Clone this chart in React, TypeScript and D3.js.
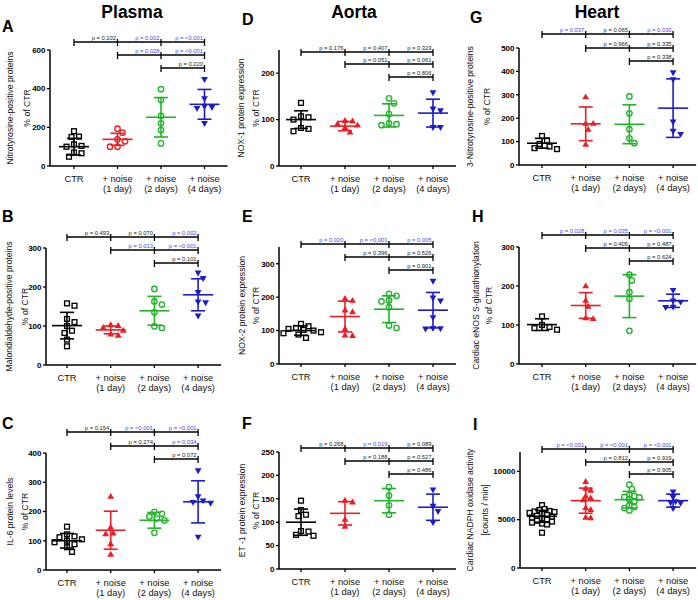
import React from "react";
import * as d3 from "d3";

// ---------- shared category labels ----------
const CAT_LINE1 = ["CTR", "+ noise", "+ noise", "+ noise"];
const CAT_LINE2 = ["", "(1 day)", "(2 days)", "(4 days)"];
const TITLES = ["Plasma", "Aorta", "Heart"];

// ---------- Panel A: Nitrotyrosine-positive proteins (plasma) ----------
const A_POINTS = [
  [180, 152, 150, 112, 104, 100, 70, 66, 48],
  [193, 172, 138, 128, 100, 100],
  [397, 341, 259, 221, 186, 117],
  [450, 350, 310, 305, 300, 222],
];
const A_MEAN = [100, 138, 252, 319];
const A_SD = [43, 31, 102, 77];
const A_P = ["0.102", "0.002", "<0.001", "0.028", "<0.001", "0.220"];
const A_TICKS = [0, 200, 400, 600];

// ---------- Panel B: Malondialdehyde-positive proteins ----------
const B_POINTS = [
  [158, 152, 118, 110, 100, 88, 82, 65, 48],
  [102, 100, 95, 88, 78, 75],
  [195, 163, 155, 135, 99, 95],
  [237, 223, 187, 163, 161, 127],
];
const B_MEAN = [101, 90, 139, 180];
const B_SD = [34, 10, 37, 41];
const B_P = ["0.493", "0.070", "0.002", "0.013", "<0.001", "0.101"];
const B_TICKS = [0, 100, 200, 300];

// ---------- Panel C: IL-6 protein levels ----------
const C_POINTS = [
  [148, 122, 115, 112, 105, 100, 95, 88, 78, 62],
  [250, 145, 125, 122, 88, 52],
  [199, 192, 183, 176, 170, 127],
  [341, 252, 238, 233, 230, 114],
];
const C_MEAN = [100, 136, 170, 233];
const C_SD = [25, 65, 27, 72];
const C_P = ["0.154", "<0.001", "<0.001", "0.274", "0.034", "0.072"];
const C_TICKS = [0, 100, 200, 300, 400];

// ---------- Panel D: NOX-1 protein expression ----------
const D_POINTS = [
  [136, 107, 105, 100, 82, 80, 75],
  [97, 96, 90, 87, 82, 72],
  [146, 135, 112, 92, 90, 88],
  [159, 124, 120, 84, 84],
];
const D_MEAN = [100, 86, 109, 114];
const D_SD = [19, 10, 25, 30];
const D_P = ["0.176", "0.407", "0.323", "0.051", "0.061", "0.806"];
const D_TICKS = [0, 100, 200];

// ---------- Panel E: NOX-2 protein expression ----------
const E_POINTS = [
  [120, 113, 108, 105, 102, 100, 95, 92, 88, 78],
  [195, 189, 160, 155, 104, 85, 84],
  [210, 204, 190, 187, 170, 115, 108],
  [249, 199, 190, 140, 108, 107, 106],
];
const E_MEAN = [100, 142, 164, 161];
const E_SD = [14, 46, 40, 53];
const E_P = ["0.020", "<0.001", "0.005", "0.396", "0.526", "0.901"];
const E_TICKS = [0, 100, 200, 300];

// ---------- Panel F: ET-1 protein expression ----------
const F_POINTS = [
  [146, 126, 116, 113, 81, 80, 73, 71],
  [146, 142, 105, 90],
  [175, 157, 136, 116],
  [170, 135, 124, 100],
];
const F_MEAN = [100, 119, 146, 132];
const F_SD = [28, 25, 26, 28];
const F_P = ["0.268", "0.019", "0.089", "0.188", "0.527", "0.486"];
const F_TICKS = [0, 50, 100, 150, 200, 250];

// ---------- Panel G: 3-Nitrotyrosine-positive proteins (heart) ----------
const G_POINTS = [
  [124, 105, 90, 79, 72, 68],
  [289, 176, 176, 150, 86],
  [293, 221, 153, 114, 93],
  [396, 367, 186, 146, 133],
];
const G_MEAN = [93, 176, 174, 243];
const G_SD = [21, 72, 83, 125];
const G_P = ["0.037", "0.065", "0.030", "0.966", "0.335", "0.338"];
const G_TICKS = [0, 100, 200, 300, 400, 500];

// ---------- Panel H: Cardiac eNOS S-glutathionylation ----------
const H_POINTS = [
  [122, 100, 95, 92, 88],
  [199, 162, 147, 117, 115],
  [229, 214, 184, 167, 85],
  [190, 163, 160, 147, 146],
];
const H_MEAN = [101, 150, 174, 162];
const H_SD = [15, 33, 55, 17];
const H_P = ["0.028", "0.035", "<0.001", "0.405", "0.487", "0.624"];
const H_TICKS = [0, 100, 200, 300];

// ---------- Panel I: Cardiac NADPH oxidase activity ----------
const I_POINTS = [
  [6500, 6100, 6000, 5900, 5850, 5800, 5700, 5600, 5500, 5400, 5300, 5200, 5100, 5000, 4900, 4800, 4700, 4600, 4500, 3650],
  [8900, 8200, 8000, 7400, 7200, 7000, 6200, 6000, 5200, 5150],
  [8620, 8170, 7600, 7450, 7350, 7300, 7100, 6900, 6500, 6300, 6200, 5950],
  [7930, 7350, 6900, 6800, 6750, 6200],
];
const I_MEAN = [5345, 6966, 7069, 6966];
const I_SD = [620, 1300, 860, 670];
const I_P = ["<0.001", "<0.001", "<0.001", "0.812", "0.919", "0.905"];
const I_TICKS = [0, 5000, 10000];

// ---------- styles ----------
const COLORS = ["#000000", "#ee1c24", "#22b32a", "#1c1ccc"];
const P_SIG = "#4646ee";
const FONT = "'Liberation Sans', Arial, Helvetica, sans-serif";

type PanelCfg = {
  letter: string; lx: number; ly: number;
  points: number[][]; mean: number[]; sd: number[]; p: string[]; ticks: number[];
  ylabel: string[]; ylx: number[];
  axisX: number; y0: number; yTop: number; yMax: number;
  cat0: number; step: number; rows: number[];
  markers: string[]; swarmDist?: number;
};

const STD_MARKERS = ["square", "triUp", "circle", "triDown"];

const PANELS: PanelCfg[] = [
  { letter: "A", lx: 2, ly: 32, points: A_POINTS, mean: A_MEAN, sd: A_SD, p: A_P, ticks: A_TICKS,
    ylabel: ["Nitrotyrosine-positive proteins", "% of CTR"], ylx: [10, 27],
    axisX: 50, y0: 166, yTop: 50, yMax: 600, cat0: 74, step: 43.5, rows: [42, 55, 68],
    markers: ["square", "circle", "circle", "triDown"] },
  { letter: "B", lx: 2, ly: 222, points: B_POINTS, mean: B_MEAN, sd: B_SD, p: B_P, ticks: B_TICKS,
    ylabel: ["Malondialdehyde-positive proteins", "% of CTR"], ylx: [9, 25],
    axisX: 46, y0: 365, yTop: 248, yMax: 300, cat0: 67, step: 43.7, rows: [237, 250, 263],
    markers: STD_MARKERS },
  { letter: "C", lx: 2, ly: 429, points: C_POINTS, mean: C_MEAN, sd: C_SD, p: C_P, ticks: C_TICKS,
    ylabel: ["IL-6 protein levels", "% of CTR"], ylx: [10, 25],
    axisX: 46, y0: 570, yTop: 453, yMax: 400, cat0: 67, step: 43.7, rows: [432, 446, 459],
    markers: STD_MARKERS },
  { letter: "D", lx: 242, ly: 25, points: D_POINTS, mean: D_MEAN, sd: D_SD, p: D_P, ticks: D_TICKS,
    ylabel: ["NOX-1 protein expression", "% of CTR"], ylx: [241, 256],
    axisX: 279, y0: 166, yTop: 50, yMax: 250, cat0: 301, step: 44, rows: [52, 64, 77],
    markers: STD_MARKERS },
  { letter: "E", lx: 242, ly: 222, points: E_POINTS, mean: E_MEAN, sd: E_SD, p: E_P, ticks: E_TICKS,
    ylabel: ["NOX-2 protein expression", "% of CTR"], ylx: [242, 256],
    axisX: 279, y0: 364, yTop: 247, yMax: 350, cat0: 301, step: 44, rows: [244, 257, 270],
    markers: STD_MARKERS },
  { letter: "F", lx: 242, ly: 429, points: F_POINTS, mean: F_MEAN, sd: F_SD, p: F_P, ticks: F_TICKS,
    ylabel: ["ET -1 protein expression", "% of CTR"], ylx: [242, 256],
    axisX: 279, y0: 569, yTop: 452, yMax: 250, cat0: 301, step: 44, rows: [448, 461, 474],
    markers: STD_MARKERS },
  { letter: "G", lx: 470, ly: 23, points: G_POINTS, mean: G_MEAN, sd: G_SD, p: G_P, ticks: G_TICKS,
    ylabel: ["3-Nitrotyrosine-positive proteins", "% of CTR"], ylx: [470, 487],
    axisX: 519, y0: 165, yTop: 48, yMax: 500, cat0: 542, step: 43.7, rows: [34, 48, 61],
    markers: STD_MARKERS },
  { letter: "H", lx: 472, ly: 222, points: H_POINTS, mean: H_MEAN, sd: H_SD, p: H_P, ticks: H_TICKS,
    ylabel: ["Cardiac eNOS S-glutathionylation", "% of CTR"], ylx: [476, 489],
    axisX: 519, y0: 364, yTop: 247, yMax: 300, cat0: 542, step: 43.7, rows: [235, 248, 261],
    markers: STD_MARKERS },
  { letter: "I", lx: 473, ly: 430, points: I_POINTS, mean: I_MEAN, sd: I_SD, p: I_P, ticks: I_TICKS,
    ylabel: ["Cardiac NADPH oxidase activity", "[counts  / min]"], ylx: [470, 485],
    axisX: 520, y0: 568, yTop: 452, yMax: 12000, cat0: 542, step: 43.7, rows: [449, 462, 474],
    markers: STD_MARKERS, swarmDist: 4.6 },
];

const TITLE_X = [132, 354, 597];

// pairs: [from, to, row] - order matches p arrays
const PAIRS = [[0, 1, 0], [1, 2, 0], [2, 3, 0], [1, 2, 1], [2, 3, 1], [2, 3, 2]];

function pVal(s: string): number {
  return s.startsWith("<") ? parseFloat(s.slice(1)) / 2 : parseFloat(s);
}

// simple beeswarm: returns x offsets in px
function swarm(ys: number[], minDist: number, step: number): number[] {
  const order = ys.map((_, i) => i).sort((a, b) => ys[a] - ys[b]);
  const placed: { x: number; y: number }[] = [];
  const xs = new Array(ys.length).fill(0);
  for (const i of order) {
    const y = ys[i];
    for (let k = 0; k < 60; k++) {
      const off = k === 0 ? 0 : (k % 2 === 1 ? 1 : -1) * Math.ceil(k / 2) * step;
      if (placed.every((p) => Math.hypot(p.x - off, p.y - y) >= minDist)) {
        xs[i] = off;
        placed.push({ x: off, y });
        break;
      }
    }
  }
  return xs;
}

function Marker({ kind, x, y, color }: { kind: string; x: number; y: number; color: string }) {
  if (kind === "square") {
    const s = 4.8;
    return <rect x={x - s / 2} y={y - s / 2} width={s} height={s} fill="#fff" stroke={color} strokeWidth={1.35} />;
  }
  if (kind === "circle") {
    return <circle cx={x} cy={y} r={2.7} fill="#fff" stroke={color} strokeWidth={1.35} />;
  }
  const path = d3.symbol(d3.symbolTriangle, 20)() as string;
  return (
    <path d={path} transform={`translate(${x},${y}) rotate(${kind === "triDown" ? 180 : 0})`} fill={color} />
  );
}

function Panel({ c }: { c: PanelCfg }) {
  const y = d3.scaleLinear().domain([0, c.yMax]).range([c.y0, c.yTop]);
  const x = d3.scalePoint<number>().domain([0, 1, 2, 3]).range([c.cat0, c.cat0 + 3 * c.step]);
  const xEnd = c.cat0 + 3 * c.step + 23;
  const midY = (c.y0 + c.yTop) / 2;
  const fmt = d3.format("d");
  const ylFs = 8.6;
  return (
    <g>
      <text x={c.lx} y={c.ly} fontSize={16} fontWeight="bold" fontFamily={FONT}>{c.letter}</text>
      {c.ylabel.map((t, i) => (
        <text key={i} transform={`translate(${c.ylx[i] + ylFs * 0.35},${midY}) rotate(-90)`}
          textAnchor="middle" fontSize={ylFs} fontFamily={FONT} fill="#111">{t}</text>
      ))}
      <line x1={c.axisX} x2={c.axisX} y1={c.yTop} y2={c.y0} stroke="#000" strokeWidth={1.5} />
      <line x1={c.axisX} x2={xEnd} y1={c.y0} y2={c.y0} stroke="#000" strokeWidth={1.5} />
      {c.ticks.map((t) => (
        <g key={t}>
          <line x1={c.axisX - 3} x2={c.axisX} y1={y(t)} y2={y(t)} stroke="#000" strokeWidth={1.3} />
          <text x={c.axisX - 4.5} y={y(t)} dy="0.35em" textAnchor="end" fontSize={8} fontWeight="bold" fontFamily={FONT}>{fmt(t)}</text>
        </g>
      ))}
      {[0, 1, 2, 3].map((i) => (
        <g key={i}>
          <line x1={x(i)} x2={x(i)} y1={c.y0} y2={c.y0 + 3} stroke="#000" strokeWidth={1.3} />
          <text x={x(i)} y={c.y0 + 16} textAnchor="middle" fontSize={9.3} fontFamily={FONT} fill="#111">{CAT_LINE1[i]}</text>
          <text x={x(i)} y={c.y0 + 26} textAnchor="middle" fontSize={9.3} fontFamily={FONT} fill="#111">{CAT_LINE2[i]}</text>
        </g>
      ))}
      {c.rows.map((ry, r) => (
        <g key={r}>
          <line x1={x(r) as number} x2={x(3) as number} y1={ry} y2={ry} stroke="#000" strokeWidth={1.3} />
          {[0, 1, 2, 3].filter((i) => i >= r).map((i) => (
            <line key={i} x1={x(i)} x2={x(i)} y1={ry - 3} y2={ry + 4} stroke="#000" strokeWidth={1.3} />
          ))}
        </g>
      ))}
      {PAIRS.map(([a, b, r], k) => (
        <text key={k} x={(x(b) as number) - 1.5} y={c.rows[r] - 1.8} textAnchor="end" fontSize={5.8}
          fontFamily={FONT} fill={pVal(c.p[k]) < 0.05 ? P_SIG : "#222"}>{"p = " + c.p[k]}</text>
      ))}
      {c.points.map((vals, g) => {
        const ys = vals.map((v) => y(v));
        const offs = swarm(ys, c.swarmDist ?? 6.2, 2.5);
        const cx = x(g) as number;
        const col = COLORS[g];
        const m = y(c.mean[g]);
        const hi = y(c.mean[g] + c.sd[g]);
        const lo = y(c.mean[g] - c.sd[g]);
        return (
          <g key={g}>
            {vals.map((_, i) => (
              <Marker key={i} kind={c.markers[g]} x={cx + offs[i]} y={ys[i]} color={col} />
            ))}
            <line x1={cx} x2={cx} y1={hi} y2={lo} stroke={col} strokeWidth={1.6} />
            <line x1={cx - 15} x2={cx + 15} y1={m} y2={m} stroke={col} strokeWidth={1.6} />
            <line x1={cx - 7} x2={cx + 7} y1={hi} y2={hi} stroke={col} strokeWidth={1.6} />
            <line x1={cx - 7} x2={cx + 7} y1={lo} y2={lo} stroke={col} strokeWidth={1.6} />
          </g>
        );
      })}
    </g>
  );
}

export default function App() {
  return (
    <svg width={698} height={600} style={{ position: "absolute", left: 0, top: 0, background: "#fff" }}>
      <rect width={698} height={600} fill="#fff" />
      {TITLES.map((t, i) => (
        <text key={t} x={TITLE_X[i]} y={18} textAnchor="middle" fontSize={17.5} fontWeight="bold" fontFamily={FONT}>{t}</text>
      ))}
      {PANELS.map((c) => <Panel key={c.letter} c={c} />)}
    </svg>
  );
}
